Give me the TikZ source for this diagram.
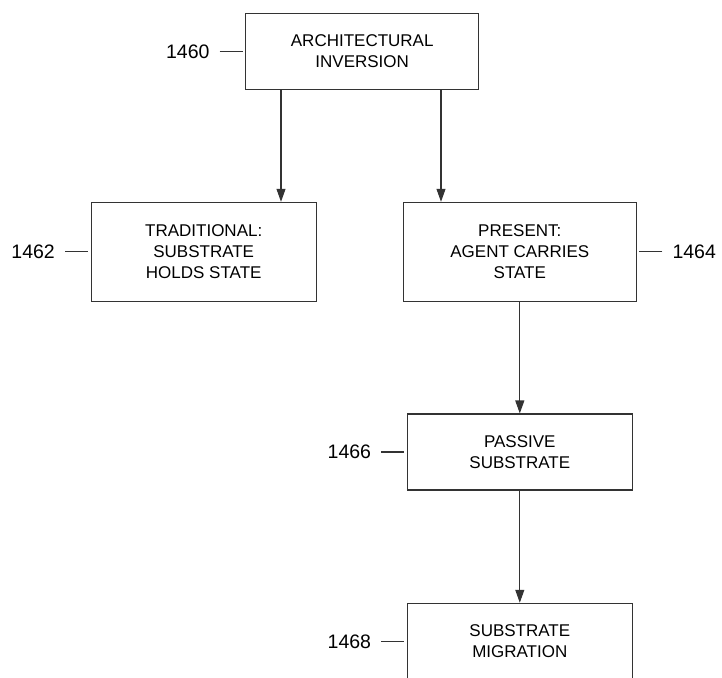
\documentclass[tikz,border=0pt]{standalone}
\usepackage{fontspec}
\setmainfont{Liberation Sans}
\usetikzlibrary{arrows.meta, positioning}

\begin{document}
\begin{tikzpicture}[
    x=1pt, y=-1pt,
    block/.style={rectangle, draw=black!80, line width=1.1pt, align=center, font=\fontsize{17}{20.7}\selectfont},
    ref/.style={inner xsep=10pt, inner ysep=0pt, font=\fontsize{19.5}{23}\selectfont},
    lead/.style={draw=black!80, line width=1.1pt, shorten >=2.5pt},
    flow/.style={-{Triangle[length=13pt, width=9pt]}, draw=black!80, line width=1.1pt}]
\useasboundingbox (0,0) rectangle (722,677);
\node[block, minimum width=233pt, minimum height=76pt] (b1460) at (362.2,51.3) {ARCHITECTURAL\\INVERSION};
\node[block, minimum width=225.3pt, minimum height=98.7pt] (b1462) at (203.7,251.7) {TRADITIONAL:\\SUBSTRATE\\HOLDS STATE};
\node[block, minimum width=233pt, minimum height=98.7pt] (b1464) at (519.8,251.7) {PRESENT:\\AGENT CARRIES\\STATE};
\node[block, minimum width=225pt, minimum height=76pt] (b1466) at (519.8,452) {PASSIVE\\SUBSTRATE};
\node[block, minimum width=225pt, minimum height=76pt] (b1468) at (519.8,641.3) {SUBSTRATE\\MIGRATION};
\node[ref, left=25.5pt of b1460] (l1460) {1460};
\node[ref, left=25.5pt of b1462] (l1462) {1462};
\node[ref, right=25.5pt of b1464] (l1464) {1464};
\node[ref, left=25.5pt of b1466] (l1466) {1466};
\node[ref, left=25.5pt of b1468] (l1468) {1468};
\draw[lead] (l1460) -- (b1460);
\draw[lead] (l1462) -- (b1462);
\draw[lead] (l1464) -- (b1464);
\draw[lead] (l1466) -- (b1466);
\draw[lead] (l1468) -- (b1468);
\coordinate (a1) at ([xshift=-81.2pt]b1460.south);
\coordinate (a2) at ([xshift=78.8pt]b1460.south);
\draw[flow] (a1) -- (a1 |- b1462.north);
\draw[flow] (a2) -- (a2 |- b1464.north);
\draw[flow] (b1464) -- (b1466);
\draw[flow] (b1466) -- (b1468);
\end{tikzpicture}
\end{document}
